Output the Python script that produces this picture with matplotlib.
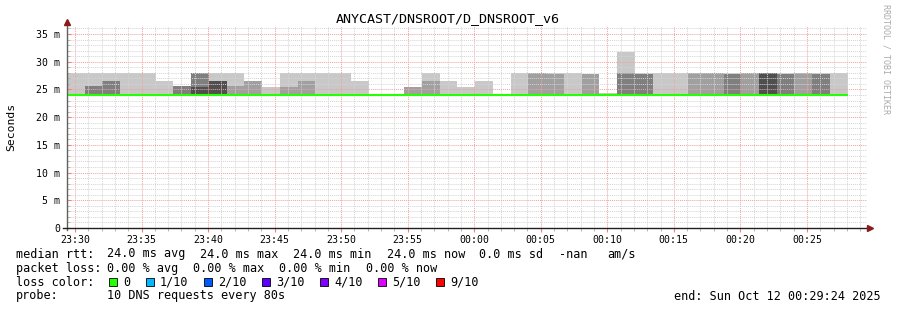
import datetime
import matplotlib
matplotlib.use('Agg')
from matplotlib import pyplot as plt
import matplotlib.dates as mdates
from matplotlib.patches import Rectangle

plt.rcParams['font.family'] = 'DejaVu Sans Mono'

W, H = 897, 310
start = datetime.datetime(2025, 10, 11, 23, 29, 24)
step_s = 80

# median rtt per 80s step (ms)
median = [24.0, 24.0, 24.0, 24.0, 24.0, 24.0, 24.0, 24.0, 24.0, 24.0, 24.0,
          24.0, 24.0, 24.0, 24.0, 24.0, 24.0, 24.0, 24.0, 24.0, 24.0, 24.0,
          24.0, 24.0, 24.0, 24.0, 24.0, 24.0, 24.0, 24.0, 24.0, 24.0, 24.0,
          24.0, 24.0, 24.0, 24.0, 24.0, 24.0, 24.0, 24.0, 24.0, 24.0, 24.0]

# smoke layers (top of each grey band, ms), None = band not present
smoke_light = [28.0, 28.0, 28.0, 28.0, 28.0, 26.5, None, None, 28.0, 28.0, None,
               25.4, 28.0, 28.0, 28.0, 28.0, 26.5, None, None, None, 28.0, 26.5,
               25.4, 26.5, None, 28.0, None, 28.0, 28.0, None, 24.4, 31.8, 28.0,
               28.0, 28.0, None, None, 28.0, None, None, 28.0, None, 28.0, 28.0]
smoke_mid = [None, None, None, None, None, None, None, None, None, 25.6, 26.5,
             None, 25.4, 26.5, None, None, None, None, None, 25.4, 26.5, None,
             None, None, None, None, 28.0, 27.8, None, 27.8, None, None, None,
             None, None, 28.0, 28.0, None, 28.0, None, None, 28.0, None, None]
smoke_dark = [None, 25.7, 26.5, None, None, None, 25.7, 28.0, None, None, None,
              None, None, None, None, None, None, None, None, None, None, None,
              None, None, None, None, None, None, None, None, None, 28.0, 27.8,
              None, None, None, None, 27.8, None, None, 27.8, None, 27.8, None]
smoke_darkest = [None, None, None, None, None, None, None, 25.4, 26.5, None, None,
                 None, None, None, None, None, None, None, None, None, None, None,
                 None, None, None, None, None, None, None, None, None, None, None,
                 None, None, None, None, None, None, 28.0, None, None, None, None]
layer_colors = ['#c8c8c8', '#a0a0a0', '#7f7f7f', '#4f4f4f']

ytick_vals = [0, 5, 10, 15, 20, 25, 30, 35]
ytick_labels = ['0', '5 m', '10 m', '15 m', '20 m', '25 m', '30 m', '35 m']

rtt_items = ['24.0 ms avg', '24.0 ms max', '24.0 ms min', '24.0 ms now', '0.0 ms sd', '-nan', 'am/s']
rtt_pos = [107, 200, 293, 387, 479, 559, 607]
loss_items = ['0.00 % avg', '0.00 % max', '0.00 % min', '0.00 % now']
loss_pos = [107, 193, 279, 366]

loss_labels = ['0', '1/10', '2/10', '3/10', '4/10', '5/10', '9/10']
loss_colors = ['#26ff00', '#00b8ff', '#0059ff', '#5e00ff', '#7e00ff', '#dd00ff', '#ff0000']


def fx(x):
    return x / W


def fy(y):
    return 1 - y / H


times = [start + datetime.timedelta(seconds=step_s * i) for i in range(len(median))]
x = mdates.date2num(times)
width = step_s / 86400.0
edges = list(x) + [x[-1] + width]

fig = plt.figure(figsize=(W / 100, H / 100), dpi=100)
ax = fig.add_axes([fx(67), fy(228), 800 / W, 202 / H])

for layer, col in zip([smoke_light, smoke_mid, smoke_dark, smoke_darkest], layer_colors):
    xs = [x[i] for i, v in enumerate(layer) if v is not None]
    hs = [v - median[i] for i, v in enumerate(layer) if v is not None]
    bs = [median[i] for i, v in enumerate(layer) if v is not None]
    ax.bar(xs, hs, width=width, bottom=bs, align='edge', color=col, linewidth=0, zorder=1)

ax.stairs(median, edges, baseline=None, color='#26ff00', linewidth=1.5, zorder=3)

ax.set_xlim(mdates.date2num(start), mdates.date2num(start) + 3607 / 86400.0)
ax.set_ylim(0, 36.44)

ax.xaxis.set_major_locator(mdates.MinuteLocator(byminute=range(0, 60, 5)))
ax.xaxis.set_minor_locator(mdates.MinuteLocator())
ax.xaxis.set_major_formatter(mdates.DateFormatter('%H:%M'))
ax.set_yticks(ytick_vals)
ax.set_yticklabels(ytick_labels)
ax.set_yticks(range(0, 37), minor=True)

ax.set_axisbelow(False)
ax.grid(which='minor', color='#d4d4d4', linestyle=(0, (1, 1)), linewidth=0.7)
ax.grid(which='major', color='#f2a0a0', linestyle=(0, (1, 1)), linewidth=0.7)

ax.tick_params(axis='both', which='both', labelsize=7.1)
ax.tick_params(axis='x', which='major', length=3, color='#f08080', direction='out', pad=2)
ax.tick_params(axis='x', which='minor', length=2, color='#b0b0b0', direction='out')
ax.tick_params(axis='y', which='major', length=3, color='#f08080', direction='in', pad=5)
ax.tick_params(axis='y', which='minor', length=2, color='#b0b0b0', direction='in')

for s in ax.spines.values():
    s.set_visible(False)
ax.plot([0, 0], [-0.01, 1.02], transform=ax.transAxes, color='#606060', lw=1, clip_on=False, zorder=4)
ax.plot([-0.005, 1.004], [0, 0], transform=ax.transAxes, color='#202020', lw=1, clip_on=False, zorder=4)
ax.plot(0, 1.02, marker='^', color='#8b1a1a', ms=4, transform=ax.transAxes, clip_on=False, zorder=5)
ax.plot(1.004, 0, marker='>', color='#8b1a1a', ms=4, transform=ax.transAxes, clip_on=False, zorder=5)

fig.text(fx(448), fy(19), 'ANYCAST/DNSROOT/D_DNSROOT_v6', ha='center', va='center', fontsize=9.6)
fig.text(fx(11), fy(127), 'Seconds', rotation=90, ha='center', va='center', fontsize=8.2)
fig.text(fx(886), fy(59), 'RRDTOOL / TOBI OETIKER', rotation=-90, ha='center', va='center',
         fontsize=6, color='#aaaaaa')

fs = 8.5
fig.text(fx(16), fy(254), 'median rtt:', va='center', fontsize=fs)
for item, px in zip(rtt_items, rtt_pos):
    fig.text(fx(px), fy(254), item, va='center', fontsize=fs)
fig.text(fx(16), fy(268.5), 'packet loss:', va='center', fontsize=fs)
for item, px in zip(loss_items, loss_pos):
    fig.text(fx(px), fy(268.5), item, va='center', fontsize=fs)
fig.text(fx(16), fy(282), 'loss color:', va='center', fontsize=fs)
bx = 109
for lab, col in zip(loss_labels, loss_colors):
    fig.patches.append(Rectangle((fx(bx), fy(286)), 8 / W, 8 / H, transform=fig.transFigure,
                                 facecolor=col, edgecolor='black', linewidth=0.6))
    fig.text(fx(bx + 14), fy(282), lab, va='center', fontsize=fs)
    bx = bx + 14 + len(lab) * 7.0 + 16
fig.text(fx(16), fy(296), 'probe:', va='center', fontsize=fs)
fig.text(fx(107), fy(296), '10 DNS requests every 80s', va='center', fontsize=fs)
fig.text(fx(881), fy(296), 'end: Sun Oct 12 00:29:24 2025', ha='right', va='center', fontsize=fs)

fig.savefig('out.png', dpi=100)
